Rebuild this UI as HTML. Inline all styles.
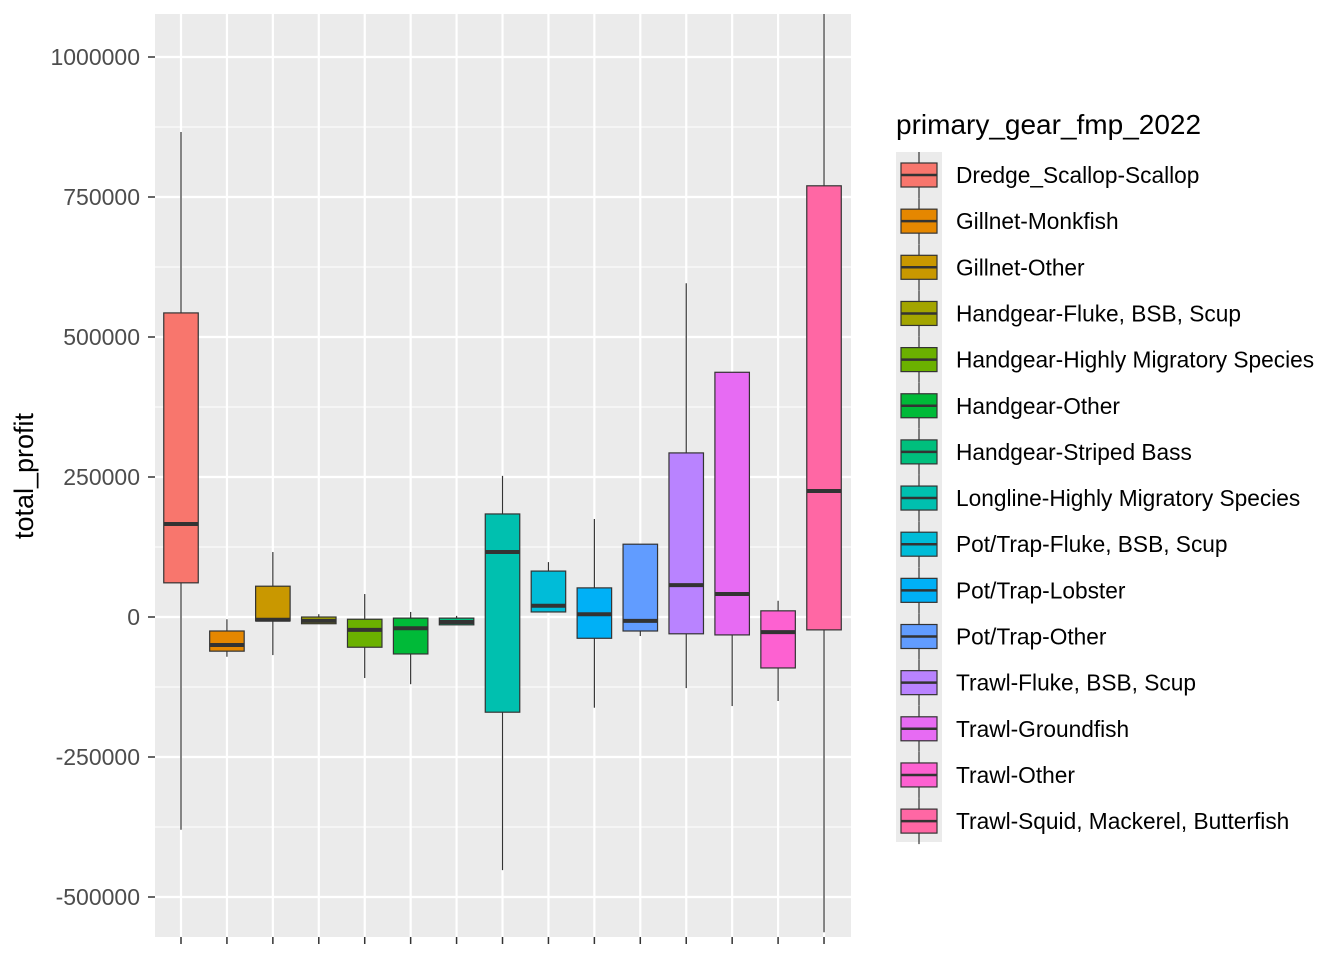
<!DOCTYPE html>
<html><head><meta charset="utf-8"><style>
html,body{margin:0;padding:0;background:#fff;}
svg{display:block;font-family:"Liberation Sans",Arial,sans-serif;}
</style></head><body>
<svg id="chart" width="1344" height="960"></svg>
<script>
const categories=["Dredge_Scallop-Scallop","Gillnet-Monkfish","Gillnet-Other","Handgear-Fluke, BSB, Scup","Handgear-Highly Migratory Species","Handgear-Other","Handgear-Striped Bass","Longline-Highly Migratory Species","Pot/Trap-Fluke, BSB, Scup","Pot/Trap-Lobster","Pot/Trap-Other","Trawl-Fluke, BSB, Scup","Trawl-Groundfish","Trawl-Other","Trawl-Squid, Mackerel, Butterfish"];
const colors=["#F8766D","#E58700","#C99800","#A3A500","#6BB100","#00BA38","#00BF7D","#00C0AF","#00BCD8","#00B0F6","#619CFF","#B983FF","#E76BF3","#FD61D1","#FF67A4"];
const whiskerHigh=[866000,-4000,116000,5000,41000,9000,2000,252000,98000,175000,130000,596000,437000,29000,1200000];
const q3=[543000,-25000,55000,0,-4000,-2000,-2000,184000,82000,52000,130000,293000,437000,11000,770000];
const medians=[166000,-50000,-5000,-7000,-23000,-20000,-9000,116000,20000,5000,-7000,57000,41000,-27000,225000];
const q1=[61000,-61000,-7000,-12000,-54000,-66000,-14000,-170000,9000,-38000,-25000,-30000,-32000,-91000,-23000];
const whiskerLow=[-380000,-71000,-68000,-12000,-109000,-120000,-14000,-452000,9000,-162000,-34000,-127000,-159000,-150000,-563000];
const yTicks=[-500000,-250000,0,250000,500000,750000,1000000];
const yTickLabels=["-500000","-250000","0","250000","500000","750000","1000000"];

const NS="http://www.w3.org/2000/svg";
const svg=document.getElementById('chart');
const P={l:155,r:851,t:14,b:937};
const y=v=>617-v*0.00056;
const step=45.93;
const x=i=>181+i*step;
function el(tag,attrs,parent){const e=document.createElementNS(NS,tag);for(const k in attrs)e.setAttribute(k,attrs[k]);(parent||svg).appendChild(e);return e;}

const defs=el('defs',{});
const cp=el('clipPath',{id:'clip'},defs);
el('rect',{x:P.l,y:P.t,width:P.r-P.l,height:P.b-P.t},cp);

const bg=el('rect',{x:P.l,y:P.t,width:P.r-P.l,height:P.b-P.t,fill:'#EBEBEB'});



for(let i=0;i<yTicks.length-1;i++){
  const v=(yTicks[i]+yTicks[i+1])/2;
  const g=el('line',{x1:P.l,x2:P.r,y1:y(v),y2:y(v),stroke:'#fff','stroke-width':1});
  
  
}
yTicks.forEach((v,i)=>{
  const g=el('line',{x1:P.l,x2:P.r,y1:y(v),y2:y(v),stroke:'#fff','stroke-width':2.2});
  
  
  const t=el('line',{x1:148,x2:155,y1:y(v),y2:y(v),stroke:'#333','stroke-width':1.5});
  
  
  const lb=el('text',{x:140,y:y(v)+8,'text-anchor':'end','font-size':23,fill:'#4D4D4D'});
  lb.textContent=yTickLabels[i];
  
  
});
categories.forEach((c,i)=>{
  const g=el('line',{x1:x(i),x2:x(i),y1:P.t,y2:P.b,stroke:'#fff','stroke-width':2.2});
  
  
  const t=el('line',{x1:x(i),x2:x(i),y1:P.b,y2:P.b+7,stroke:'#333','stroke-width':1.5});
  
  
});

const boxes=el('g',{'clip-path':'url(#clip)'});


const bw=34.5;
categories.forEach((c,i)=>{
  const g=el('g',{},boxes);
  
  
  el('line',{x1:x(i),x2:x(i),y1:y(whiskerHigh[i]),y2:y(q3[i]),stroke:'#333','stroke-width':1.2},g);
  el('line',{x1:x(i),x2:x(i),y1:y(q1[i]),y2:y(whiskerLow[i]),stroke:'#333','stroke-width':1.2},g);
  el('rect',{x:x(i)-bw/2,y:y(q3[i]),width:bw,height:Math.max(0.5,y(q1[i])-y(q3[i])),fill:colors[i],stroke:'#333','stroke-width':1.2},g);
  el('line',{x1:x(i)-bw/2,x2:x(i)+bw/2,y1:y(medians[i]),y2:y(medians[i]),stroke:'#333','stroke-width':4},g);
});

const yt=el('text',{x:0,y:0,transform:'translate(33,476) rotate(-90)','text-anchor':'middle','font-size':27,fill:'#000'});
yt.textContent='total_profit';



const lg=el('g',{});


const lt=el('text',{x:896,y:134,'font-size':28,fill:'#000'},lg);
lt.textContent='primary_gear_fmp_2022';


el('rect',{x:896,y:152,width:46,height:690,fill:'#EBEBEB'},lg);
categories.forEach((c,i)=>{
  const cy=175+i*46.15;
  const e=el('g',{},lg);
  
  
  el('line',{x1:919,x2:919,y1:cy-23,y2:cy+23,stroke:'#333','stroke-width':1.2},e);
  el('rect',{x:901,y:cy-12,width:36,height:24,fill:colors[i],stroke:'#333','stroke-width':1.2},e);
  el('line',{x1:901,x2:937,y1:cy,y2:cy,stroke:'#333','stroke-width':2.5},e);
  const t=el('text',{x:956,y:cy+8,'font-size':22.7,fill:'#000'},e);
  t.textContent=c;
});
</script>
</body></html>
